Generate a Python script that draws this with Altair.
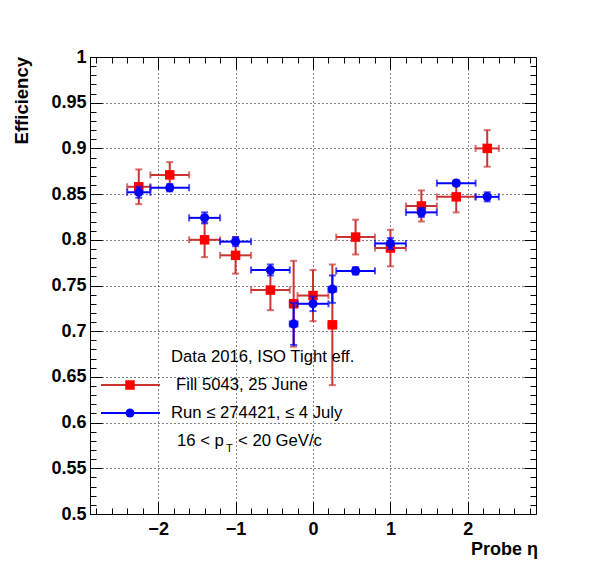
import pandas as pd
import altair as alt

eta = [-2.25, -1.85, -1.4, -1.0, -0.55, -0.25, 0.0, 0.25, 0.55, 1.0, 1.4, 1.85, 2.25]
eta_lo = [-2.4, -2.1, -1.6, -1.2, -0.8, -0.3, -0.2, 0.2, 0.3, 0.8, 1.2, 1.6, 2.1]
eta_hi = [-2.1, -1.6, -1.2, -0.8, -0.3, -0.2, 0.2, 0.3, 0.8, 1.2, 1.6, 2.1, 2.4]

fill_eff = [0.858, 0.871, 0.800, 0.783, 0.745, 0.730, 0.739, 0.707, 0.803, 0.791, 0.837, 0.847, 0.900]
fill_err = [0.019, 0.014, 0.019, 0.020, 0.022, 0.047, 0.028, 0.066, 0.019, 0.020, 0.017, 0.017, 0.020]

run_eff = [0.852, 0.857, 0.824, 0.798, 0.767, 0.708, 0.730, 0.746, 0.766, 0.796, 0.830, 0.862, 0.847]
run_err = [0.006, 0.004, 0.006, 0.005, 0.006, 0.023, 0.008, 0.015, 0.004, 0.006, 0.005, 0.003, 0.005]

FONT = "Liberation Sans"
W, H = 446, 457
RED, RED_BAR, BLUE = "#ff0000", "#cc3333", "#0000ff"

xs = alt.Scale(domain=[-2.88, 2.88], nice=False, zero=False)
ys = alt.Scale(domain=[0.5, 1.0], nice=False, zero=False)


def frame(eff, err):
    return pd.DataFrame({"x": eta, "xlo": eta_lo, "xhi": eta_hi, "y": eff,
                         "ylo": [e - d for e, d in zip(eff, err)],
                         "yhi": [e + d for e, d in zip(eff, err)]})


def series(df, bar_color, marker_color, shape, size):
    b = alt.Chart(df)
    X = alt.X("x:Q", scale=xs, axis=None)
    Y = alt.Y("y:Q", scale=ys, axis=None)
    vbar = b.mark_rule(color=bar_color, strokeWidth=2).encode(x=X, y=alt.Y("ylo:Q", scale=ys, axis=None), y2="yhi:Q")
    hbar = b.mark_rule(color=bar_color, strokeWidth=2).encode(y=Y, x=alt.X("xlo:Q", scale=xs, axis=None), x2="xhi:Q")
    caps = []
    for f in ["ylo", "yhi"]:
        caps.append(b.mark_tick(color=bar_color, orient="horizontal", size=7, thickness=2).encode(
            x=X, y=alt.Y(f + ":Q", scale=ys, axis=None)))
    for f in ["xlo", "xhi"]:
        caps.append(b.mark_tick(color=bar_color, orient="vertical", size=7, thickness=2).encode(
            y=Y, x=alt.X(f + ":Q", scale=xs, axis=None)))
    pts = b.mark_point(shape=shape, filled=True, color=marker_color, size=size, opacity=1).encode(x=X, y=Y)
    return [vbar, hbar] + caps + [pts]


dummy = alt.Chart(pd.DataFrame({"x": [0.0], "y": [0.75]}))


def ax(xaxis, yaxis):
    return dummy.mark_point(opacity=0).encode(
        x=alt.X("x:Q", scale=xs, axis=xaxis, title=None),
        y=alt.Y("y:Q", scale=ys, axis=yaxis, title=None))


lab = dict(labelFont=FONT, labelFontSize=18, labelFontWeight="bold", labelColor="black",
           domain=False, ticks=False)
xmaj = [-2, -1, 0, 1, 2]
xmin = [round(-2.8 + 0.2 * i, 1) for i in range(29)]
ymaj = [round(0.5 + 0.05 * i, 2) for i in range(11)]
ymin = [round(0.5 + 0.01 * i, 2) for i in range(51)]

axes = [
    # grid + labels
    ax(alt.Axis(values=xmaj, grid=True, gridDash=[1, 3], gridColor="black", gridOpacity=1,
                labelPadding=6, labelExpr="replace(datum.label, '-', '\u2212')", **lab),
       alt.Axis(values=ymaj, grid=True, gridDash=[1, 3], gridColor="black", gridOpacity=1,
                labelPadding=4, labelExpr="datum.value == 1 ? '1' : datum.label", format=".2~f", **lab)),
    # inward ticks on left and bottom
    ax(alt.Axis(orient="top", offset=-H, values=xmaj, labels=False, domain=False, tickSize=12, tickColor="black", grid=False),
       alt.Axis(orient="right", offset=-W, values=ymaj, labels=False, domain=False, tickSize=12, tickColor="black", grid=False)),
    ax(alt.Axis(orient="top", offset=-H, values=xmin, labels=False, domain=False, tickSize=6, tickColor="black", grid=False),
       alt.Axis(orient="right", offset=-W, values=ymin, labels=False, domain=False, tickSize=6, tickColor="black", grid=False)),
    # inward ticks on top and right
    ax(alt.Axis(orient="bottom", offset=-H, values=xmaj, labels=False, domain=False, tickSize=12, tickColor="black", grid=False),
       alt.Axis(orient="left", offset=-W, values=ymaj, labels=False, domain=False, tickSize=12, tickColor="black", grid=False)),
    ax(alt.Axis(orient="bottom", offset=-H, values=xmin, labels=False, domain=False, tickSize=6, tickColor="black", grid=False),
       alt.Axis(orient="left", offset=-W, values=ymin, labels=False, domain=False, tickSize=6, tickColor="black", grid=False)),
]


def txt(s, x, y, size=16.7, **kw):
    return dummy.mark_text(text=s, font=FONT, fontSize=size, align=kw.pop("align", "left"),
                           baseline=kw.pop("baseline", "middle"), color="black", **kw).encode(
        x=alt.value(x), y=alt.value(y))


legend = [
    txt("Data 2016, ISO Tight eff.", 81, 300),
    dummy.mark_rule(color=RED_BAR, strokeWidth=2).encode(x=alt.value(11), x2=alt.value(70), y=alt.value(328)),
    dummy.mark_point(shape="square", filled=True, color=RED, size=90, opacity=1).encode(x=alt.value(40), y=alt.value(328)),
    txt("Fill 5043, 25 June", 86, 328),
    dummy.mark_rule(color=BLUE, strokeWidth=2).encode(x=alt.value(11), x2=alt.value(70), y=alt.value(356)),
    dummy.mark_point(shape="circle", filled=True, color=BLUE, size=80, opacity=1).encode(x=alt.value(40), y=alt.value(356)),
    txt("Run \u2264 274421, \u2264 4 July", 81, 356),
    txt("16 < p", 87, 384),
    txt("T", 136, 392, size=11),
    txt("<  20 GeV/c", 148, 384),
    txt("Probe \u03b7", W + 2, 493, size=18, align="right", fontWeight="bold"),
    txt("Efficiency", -68, 0, size=18.5, align="right", fontWeight="bold", angle=270),
]

layers = axes + series(frame(fill_eff, fill_err), RED_BAR, RED, "square", 90) \
    + series(frame(run_eff, run_err), BLUE, BLUE, "circle", 85) + legend

chart = alt.layer(*layers).resolve_axis(x="independent", y="independent").properties(
    width=W, height=H, autosize="none",
    padding={"left": 82, "top": 49, "right": 52, "bottom": 50},
    background="white",
).configure_view(stroke="black", strokeWidth=1)

chart.save("out.html", embed_options={"renderer": "svg", "actions": False})
